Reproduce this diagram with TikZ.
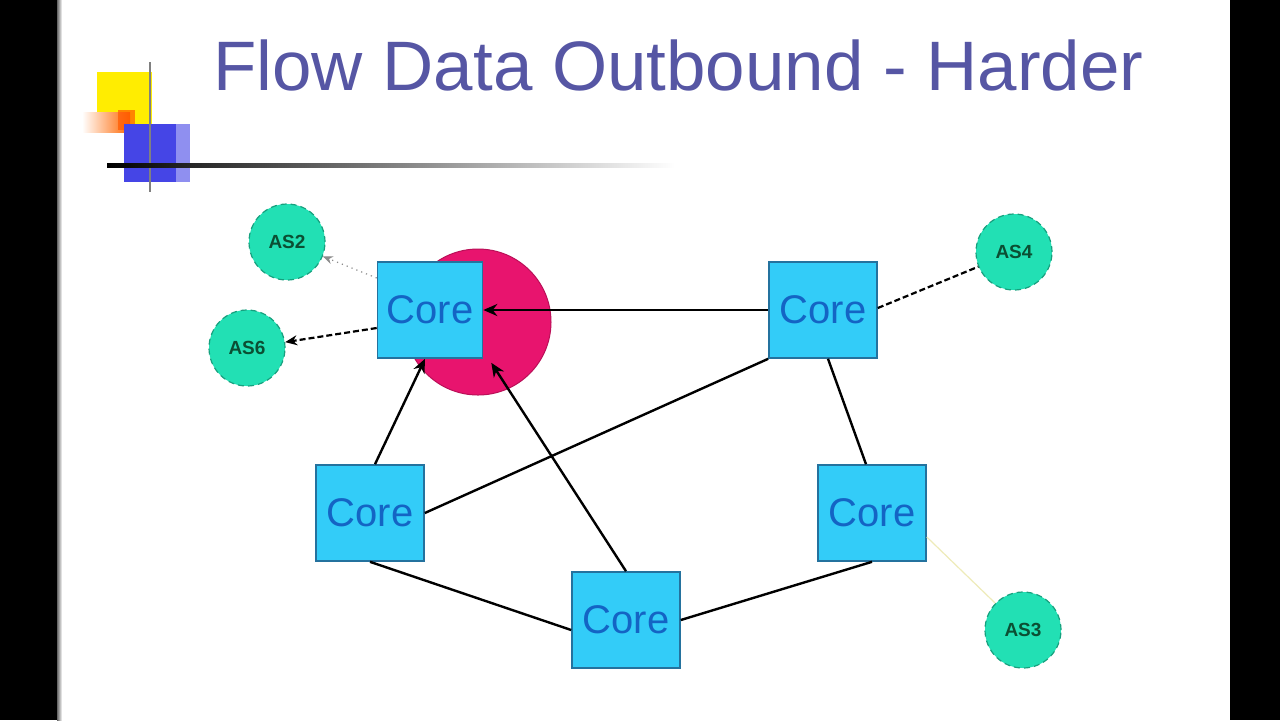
\documentclass[tikz,border=0pt]{standalone}
\usepackage{fontspec}
\setmainfont{Liberation Sans}
\usetikzlibrary{arrows.meta}
\definecolor{titleblue}{HTML}{5656A4}
\definecolor{corefill}{HTML}{33CCF8}
\definecolor{coreline}{HTML}{24729E}
\definecolor{coretext}{HTML}{1464C4}
\definecolor{asfill}{HTML}{22E0B4}
\definecolor{asline}{HTML}{17A07E}
\definecolor{astext}{HTML}{0B4F33}
\definecolor{hubpink}{HTML}{E8146E}
\definecolor{logoblue}{HTML}{4545E6}
\tikzset{
  corebox/.style={rectangle, draw=coreline, line width=0.8pt, fill=corefill,
    minimum width=54pt, minimum height=48pt, inner sep=0pt,
    text=coretext, font=\fontsize{20}{20}\selectfont},
  asnode/.style={circle, draw=asline, densely dashed, line width=0.6pt, fill=asfill,
    minimum size=38pt, inner sep=0pt, text=astext, font=\bfseries\fontsize{9.5}{10}\selectfont},
  link/.style={draw=black, line width=1.2pt},
  arrowlink/.style={link, -{Stealth[length=7pt,width=6pt]}},
  dashlink/.style={draw=black, line width=1.1pt, dash pattern=on 3pt off 1.5pt},
}
\begin{document}
\begin{tikzpicture}[x=0.5pt,y=-0.5pt]
\useasboundingbox (0,0) rectangle (1280,720);
\fill[black] (0,0) rectangle (1280,720);
\fill[white] (57,0) rectangle (1230,720);
\shade[left color=black!60, right color=white] (57,0) rectangle (62,720);
% logo
\fill[yellow!95!orange] (97,72) rectangle (152,125);
\shade[left color=white, right color=orange!80!red] (82,112) rectangle (130,132);
\fill[orange!70!red, opacity=0.7] (118,110) rectangle (135,130);
\fill[logoblue] (124,124) rectangle (188,182);
\fill[logoblue!60!white] (176,124) rectangle (190,182);
\draw[black!50, line width=0.6pt] (150,62) -- (150,192);
\shade[left color=black, right color=white] (107,163) rectangle (675,167);
% title
\node[anchor=base west, inner sep=0pt, text=titleblue, xscale=1.013, font=\fontsize{35}{36}\selectfont] (title) at (213,90) {Flow Data Outbound - Harder};
% hub circle
\node[circle, fill=hubpink, draw=hubpink!80!black, line width=0.5pt, minimum size=73pt, inner sep=0pt] (hub) at (478,322) {};
% cores
\node[corebox, minimum width=52.5pt] (A) at (430,310) {Core};
\node[corebox] (B) at (823,310) {Core};
\node[corebox] (C) at (370,513) {Core};
\node[corebox] (D) at (872,513) {Core};
\node[corebox] (E) at (626,620) {Core};
% AS nodes
\node[asnode] (AS2) at (287,242) {AS2};
\node[asnode] (AS6) at (247,348) {AS6};
\node[asnode] (AS4) at (1014,252) {AS4};
\node[asnode] (AS3) at (1023,630) {AS3};
% connectors
\draw[arrowlink] (B.west) -- (A.east);
\draw[arrowlink] ([xshift=2.5pt]C.north) -- ([xshift=-2.5pt]A.south);
\draw[arrowlink] (E.north) -- ([xshift=4pt,yshift=-2pt]A.south east);
\draw[link] (B.south west) -- (C.east);
\draw[link] ([xshift=2.5pt]B.south) -- ([xshift=-3pt]D.north);
\draw[link] (C.south) -- ([yshift=-5pt]E.west);
\draw[link] (D.south) -- (E.east);
\draw[dashlink, -{Stealth[length=6pt,width=5pt]}] ([yshift=-9pt]A.west) -- (AS6);
\draw[black!45, line width=0.6pt, dotted, -{Stealth[length=5pt,width=4pt]}] ([yshift=16pt]A.west) -- (AS2);
\draw[dashlink] ([yshift=1pt]B.east) -- (AS4);
\draw[black!25!yellow!30!white, line width=0.6pt] ([yshift=-12pt]D.east) -- (AS3);
\end{tikzpicture}
\end{document}
